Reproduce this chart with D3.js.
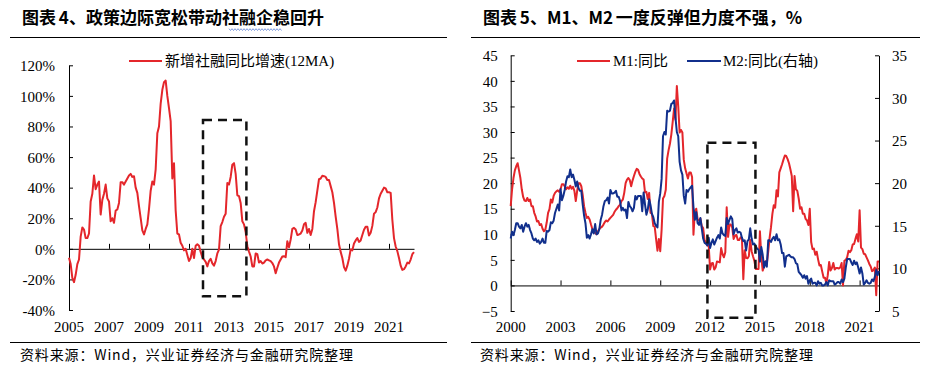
<!DOCTYPE html>
<html>
<head>
<meta charset="utf-8">
<script src="https://cdn.jsdelivr.net/npm/d3@7"></script>
<style>
  html, body { margin: 0; padding: 0; background: #fff; }
  svg { display: block; }
  .tick-label { font-family: "Liberation Serif", "Times New Roman", serif; font-size: 15px; fill: #000; }
</style>
</head>
<body>
<svg id="chart" width="926" height="369"></svg>
<script>
// ---------------- DATA ----------------
// Left chart: 新增社融同比增速(12MA), monthly from 2005-01 (%)
const tsfStartYear = 2005;
const tsfGrowth = [
  -5.9, -10, -19, -21.8, -17, -10, -7, 8, 14, 12.6, 7, 7,
  10, 31, 36, 48, 39, 42, 44, 22.4, 32, 36, 42, 33,
  31, 18, 20, 17, 25, 25.7, 30, 43.6, 43.6, 42, 44, 46,
  48, 49, 47, 47.5, 40, 36.6, 28, 20, 12, 9.4, 13, 16,
  26, 38, 44, 42, 52, 75.5, 80, 95, 104, 109, 110, 100,
  92, 83.5, 46, 56, 25, 10, 9.4, 4, 2, -1, 0, -4,
  -8, -6, 0, -6, 2, 3, 2, -2, -5.5, -7, -8.5, -11.5,
  -8, -6.5, -9.5, -11, -8, -3, -0.5, 14.8, 17.5, 21, 23, 43,
  42, 47, 55, 56, 49, 35, 34.5, 30, 18, 16, 11, 1.7,
  -1.8, -5, -11.5, -11.5, -3, -3.5, -9, -8, -9.6, -9, -7.5, -7,
  -7.5, -8, -9.3, -11.5, -16, -12.4, -9, -7, -5, -4.8, -5.5, 5,
  1, 6, 13, 13.7, 12.6, 9, 9.4, 10, 12, 16, 17, 10.5,
  13, 9, 13, 24.6, 30.5, 38, 45.5, 46, 47.8, 47.5, 47, 45,
  45, 41, 37, 30, 21, 13, 3, -2, -6, -12, -14.3, -11,
  -6.5, -0.4, -1, 3.5, 5.5, 7, 4.5, 5.5, 9, 12.5, 14.5, 14.4,
  8.7, 10.5, 15, 23, 24, 27, 33, 36, 38, 40, 39.5, 37,
  37, 36.6, 19, 7, 1.5, -1.5, -6, -11, -13.8, -13.3, -11.5, -9,
  -9.5, -7, -3.5, -2.2
];
const tsfYTicks = [-40, -20, 0, 20, 40, 60, 80, 100, 120];
const tsfXTicks = [2005, 2007, 2009, 2011, 2013, 2015, 2017, 2019, 2021];
const tsfLegend = "新增社融同比增速(12MA)";
const tsfBox = { x0: 2011.7, x1: 2013.87, y0: -31, y1: 84.3 };

// Right chart: M1 / M2 yoy (%), monthly from 2000-01
const moneyStartYear = 2000;
const m1Growth = [
  15.5, 18.8, 21, 22.5, 23.3, 23.9, 22.5, 21, 18.8, 17.3, 16.6, 16.5,
  17.1, 16.5, 16.8, 15.5, 15.5, 14.2, 13.5, 12.5, 12.6, 11.8, 12, 11.1,
  10.6, 10.9, 12.3, 14.2, 14.9, 16.8, 16.2, 17.5, 18.1, 18.4, 18.6, 18.3,
  18.8, 19.8, 19.8, 19.4, 18.8, 19.2, 18.9, 19.5, 18.9, 19.3, 18.5, 16.5,
  18.5, 20, 20, 19.4, 17.7, 15.5, 14.2, 13.2, 13.4, 12.9, 11.9, 11,
  10.6, 10.3, 10, 10.6, 11, 11.3, 11.5, 11.9, 12.4, 12.7, 12.5, 12.9,
  13.2, 13.5, 13.8, 14.4, 14.8, 15.1, 15.5, 15.8, 16.5, 16.8, 18.1, 20,
  20.7, 21, 20.6, 19.4, 20.5, 21.4, 22.2, 22.8, 22.6, 21.8, 21.3, 20.9,
  20.7, 18.2, 18.3, 16.9, 18.1, 14.2, 14.0, 11.6, 11.5, 9.1, 6.8, 9.1,
  6.7, 10.9, 17.0, 17.5, 18.7, 24.8, 26.4, 27.7, 29.5, 32.0, 34.6, 32.4,
  39.0, 35.0, 29.9, 30.4, 29.9, 24.6, 22.9, 21.9, 20.9, 22.1, 22.1, 21.2,
  9.9, 14.5, 15.0, 12.9, 12.7, 13.1, 11.6, 11.2, 8.9, 8.4, 7.8, 7.9,
  3.1, 4.3, 4.4, 3.1, 3.5, 4.7, 4.6, 4.5, 7.3, 6.1, 5.5, 6.5,
  15.3, 9.5, 11.9, 11.9, 11.3, 9.1, 9.7, 9.9, 8.9, 8.9, 9.4, 9.3,
  1.2, 6.9, 5.4, 5.3, 5.7, 8.9, 6.7, 5.7, 4.8, 3.2, 3.2, 3.2,
  10.6, 5.6, 2.9, 3.7, 4.7, 4.3, 6.6, 9.3, 11.4, 14.0, 15.7, 15.2,
  18.6, 17.4, 22.1, 22.9, 23.7, 24.6, 25.4, 25.3, 24.7, 23.9, 22.7, 21.4,
  14.5, 21.4, 18.8, 18.5, 17.0, 15.0, 15.3, 14.0, 14.0, 13.0, 12.7, 11.8,
  15.0, 8.5, 7.1, 7.2, 6.0, 6.6, 5.1, 3.9, 4.0, 2.7, 1.5, 1.5,
  0.4, 2.0, 4.6, 2.9, 3.4, 4.4, 3.1, 3.4, 3.4, 3.3, 3.5, 4.4,
  0.0, 4.8, 5.0, 5.5, 6.8, 6.5, 6.9, 8.0, 8.1, 9.1, 10.0, 8.6,
  14.7, 7.4, 7.1, 6.2, 6.1, 5.5, 4.9, 4.2, 3.7, 2.8, 3.0, 3.5,
  -1.9, 4.7, 4.7
];
const m2Growth = [
  13.5, 14.3, 13.9, 14.5, 15.3, 15.3, 14.9, 14.7, 15.1, 14.3, 14.9, 15.3,
  14.9, 15.1, 14.5, 14.1, 13.5, 13.3, 13.5, 13.1, 13.3, 12.9, 13.1, 13.5,
  13.0, 13.0, 14.4, 14.3, 14.5, 15.4, 15.3, 15.6, 16.5, 17.0, 17.5, 16.8,
  19.3, 18.0, 18.5, 19.2, 20.2, 20.8, 20.7, 21.6, 20.7, 21.0, 20.4, 19.6,
  20.2, 19.4, 19.1, 19.1, 17.5, 16.2, 15.3, 13.6, 13.9, 13.5, 14.0, 14.6,
  14.1, 15.2, 14.0, 14.1, 14.6, 15.7, 16.3, 17.3, 17.9, 18.0, 18.3, 17.6,
  19.2, 18.8, 18.8, 18.9, 19.1, 18.4, 18.4, 17.9, 16.8, 17.1, 16.8, 16.9,
  15.9, 17.8, 17.3, 17.1, 16.7, 17.1, 18.5, 18.1, 18.5, 18.5, 18.5, 16.7,
  18.9, 17.5, 16.3, 16.9, 18.1, 17.4, 16.4, 16.0, 15.3, 15.0, 14.8, 17.8,
  18.8, 20.5, 25.5, 26.0, 25.7, 28.5, 28.4, 28.5, 29.3, 29.4, 29.7, 27.7,
  26.0, 25.5, 22.5, 21.5, 21.0, 18.5, 17.6, 19.2, 19.0, 19.3, 19.5, 19.7,
  17.2, 15.7, 16.6, 15.3, 15.1, 15.9, 14.7, 13.5, 13.0, 12.9, 12.7, 13.6,
  12.4, 13.0, 13.4, 12.8, 13.2, 13.6, 13.9, 13.5, 14.8, 14.1, 13.9, 13.8,
  15.9, 15.2, 15.7, 16.1, 15.8, 14.0, 14.5, 14.7, 14.2, 14.3, 14.2, 13.6,
  13.2, 13.3, 12.1, 13.2, 13.4, 14.7, 13.5, 12.8, 12.9, 12.6, 12.3, 12.2,
  10.8, 12.5, 11.6, 10.1, 10.8, 10.2, 13.3, 13.3, 13.1, 13.5, 13.7, 13.3,
  14.0, 13.3, 13.4, 12.8, 11.8, 11.8, 10.2, 11.4, 11.5, 11.6, 11.4, 11.3,
  11.3, 11.1, 10.6, 10.5, 9.6, 9.4, 9.2, 8.9, 9.2, 8.8, 9.1, 8.2,
  8.6, 8.8, 8.2, 8.3, 8.3, 8.0, 8.5, 8.2, 8.3, 8.0, 8.0, 8.1,
  8.4, 8.0, 8.6, 8.5, 8.5, 8.5, 8.1, 8.2, 8.4, 8.4, 8.2, 8.7,
  8.4, 8.8, 10.1, 11.1, 11.1, 11.1, 10.7, 10.4, 10.9, 10.5, 10.7, 10.1,
  9.4, 10.1, 9.4, 8.1, 8.3, 8.6, 8.3, 8.2, 8.3, 8.7, 8.5, 9.0,
  9.8, 9.2, 9.7
];
const moneyLeftTicks = [-5, 0, 5, 10, 15, 20, 25, 30, 35, 40, 45];
const moneyRightTicks = [5, 10, 15, 20, 25, 30, 35];
const moneyXTicks = [2000, 2003, 2006, 2009, 2012, 2015, 2018, 2021];
const moneyLegend = ["M1:同比", "M2:同比(右轴)"];
const moneyBox = { x0: 2011.84, x1: 2014.73, y0: -6.3, y1: 27.9 };

const titles = ["图表 4、政策边际宽松带动社融企稳回升", "图表 5、M1、M2 一度反弹但力度不强，%"];
const sourceText = "资料来源：Wind，兴业证券经济与金融研究院整理";

// ---------------- STYLE ----------------
const RED = "#E4262B";
const BLUE = "#112F8C";
const CJK = "'Noto Sans CJK SC', 'Noto Sans', sans-serif";
const SERIF = "'Liberation Serif', 'Noto Sans CJK SC', serif";

const svg = d3.select("#chart");

// ---------------- HEADERS / FOOTERS ----------------
function frame(x0, x1, titleX, title, srcX) {
  svg.append("text").attr("x", titleX).attr("y", 24)
    .style("font-family", CJK).style("font-weight", 700).style("font-size", "17px")
    .style("word-spacing", "-1px")
    .attr("fill", "#000").text(title);
  svg.append("line").attr("x1", x0).attr("x2", x1).attr("y1", 37.5).attr("y2", 37.5)
    .attr("stroke", "#000").attr("stroke-width", 1.2);
  svg.append("line").attr("x1", x0).attr("x2", x1).attr("y1", 342.5).attr("y2", 342.5)
    .attr("stroke", "#000").attr("stroke-width", 1.2);
  svg.append("text").attr("x", srcX).attr("y", 360)
    .style("font-family", CJK).style("font-size", "14px").style("letter-spacing", "0.85px")
    .attr("fill", "#000").text(sourceText);
}
frame(10, 447, 22, titles[0], 20);
frame(471, 920, 483, titles[1], 480);

// spell-check style wavy underline in left title (as in the reference screenshot)
{
  const pts = d3.range(0, 53, 1.5).map(d => [229 + d, 29.3 + (Math.floor(d / 1.5) % 2 ? 1.2 : -0.6)]);
  svg.append("path").attr("d", d3.line()(pts)).attr("fill", "none")
    .attr("stroke", "#6f8fd8").attr("stroke-width", 0.9);
}

// ---------------- LEFT CHART ----------------
{
  const x = d3.scaleLinear().domain([tsfStartYear, tsfStartYear + (tsfGrowth.length - 1) / 12]).range([69, 414]);
  const y = d3.scaleLinear().domain([-40, 120]).range([310, 65.3]);
  const g = svg.append("g");

  const yAxis = d3.axisLeft(y).tickValues(tsfYTicks).tickSizeInner(-4).tickSizeOuter(0)
    .tickPadding(14).tickFormat(d => d + "%");
  const ya = g.append("g").attr("transform", `translate(${x.range()[0]},0)`).call(yAxis);
  ya.selectAll("text").attr("class", "tick-label").attr("dy", "0.35em").style("font-size", "15px");
  ya.selectAll("path,line").attr("stroke", "#000");

  const xAxis = d3.axisBottom(x).tickValues(tsfXTicks).tickSizeInner(-5).tickSizeOuter(0).tickFormat("");
  const xa = g.append("g").attr("transform", `translate(0,${y(0)})`).call(xAxis);
  xa.selectAll("path,line").attr("stroke", "#000");

  g.selectAll("text.xl").data(tsfXTicks).join("text")
    .attr("class", "tick-label").attr("x", d => x(d)).attr("y", 332)
    .attr("text-anchor", "middle").text(d => d);

  const line = d3.line().x((d, i) => x(tsfStartYear + i / 12)).y(d => y(d));
  g.append("path").datum(tsfGrowth).attr("d", line).attr("fill", "none")
    .attr("stroke", RED).attr("stroke-width", 2).attr("stroke-linejoin", "round");

  g.append("rect")
    .attr("x", x(tsfBox.x0)).attr("y", y(tsfBox.y1))
    .attr("width", x(tsfBox.x1) - x(tsfBox.x0)).attr("height", y(tsfBox.y0) - y(tsfBox.y1))
    .attr("fill", "none").attr("stroke", "#111").attr("stroke-width", 2.5)
    .attr("stroke-dasharray", "9,6");

  // legend
  g.append("line").attr("x1", 129).attr("x2", 162).attr("y1", 61).attr("y2", 61)
    .attr("stroke", RED).attr("stroke-width", 2);
  g.append("text").attr("x", 165).attr("y", 66).style("font-family", SERIF)
    .style("font-size", "15px").attr("fill", "#000").text(tsfLegend);
}

// ---------------- RIGHT CHART ----------------
{
  const x = d3.scaleLinear().domain([moneyStartYear, moneyStartYear + (m1Growth.length - 1) / 12]).range([510.7, 879]);
  const yL = d3.scaleLinear().domain([-5, 45]).range([311, 55.3]);
  const yR = d3.scaleLinear().domain([5, 35]).range([311, 55.3]);
  const g = svg.append("g");

  const la = g.append("g").attr("transform", `translate(${x.range()[0]},0)`)
    .call(d3.axisLeft(yL).tickValues(moneyLeftTicks).tickSizeInner(-4).tickSizeOuter(0).tickPadding(13));
  la.selectAll("text").attr("class", "tick-label").attr("dy", "0.35em");
  la.selectAll("path,line").attr("stroke", "#000");

  const ra = g.append("g").attr("transform", `translate(${x.range()[1]},0)`)
    .call(d3.axisRight(yR).tickValues(moneyRightTicks).tickSizeInner(-4).tickSizeOuter(0).tickPadding(13));
  ra.selectAll("text").attr("class", "tick-label").attr("dy", "0.35em");
  ra.selectAll("path,line").attr("stroke", "#000");

  const xa = g.append("g").attr("transform", `translate(0,${yL(0)})`)
    .call(d3.axisBottom(x).tickValues(moneyXTicks).tickSizeInner(-5).tickSizeOuter(0).tickFormat(""));
  xa.selectAll("path,line").attr("stroke", "#000");

  g.selectAll("text.xl").data(moneyXTicks).join("text")
    .attr("class", "tick-label").attr("x", d => x(d)).attr("y", 332)
    .attr("text-anchor", "middle").text(d => d);

  const l1 = d3.line().x((d, i) => x(moneyStartYear + i / 12)).y(d => yL(d));
  const l2 = d3.line().x((d, i) => x(moneyStartYear + i / 12)).y(d => yR(d));
  g.append("path").datum(m1Growth).attr("d", l1).attr("fill", "none")
    .attr("stroke", RED).attr("stroke-width", 2).attr("stroke-linejoin", "round");
  g.append("path").datum(m2Growth).attr("d", l2).attr("fill", "none")
    .attr("stroke", BLUE).attr("stroke-width", 2).attr("stroke-linejoin", "round");

  g.append("rect")
    .attr("x", x(moneyBox.x0)).attr("y", yL(moneyBox.y1))
    .attr("width", x(moneyBox.x1) - x(moneyBox.x0)).attr("height", yL(moneyBox.y0) - yL(moneyBox.y1))
    .attr("fill", "none").attr("stroke", "#111").attr("stroke-width", 2.5)
    .attr("stroke-dasharray", "9,6");

  // legend
  const leg = [
    { x1: 577, x2: 610, tx: 613, color: RED, label: moneyLegend[0] },
    { x1: 687, x2: 721, tx: 723, color: BLUE, label: moneyLegend[1] }
  ];
  leg.forEach(d => {
    g.append("line").attr("x1", d.x1).attr("x2", d.x2).attr("y1", 61).attr("y2", 61)
      .attr("stroke", d.color).attr("stroke-width", 2);
    g.append("text").attr("x", d.tx).attr("y", 66).style("font-family", SERIF)
      .style("font-size", "15px").attr("fill", "#000").text(d.label);
  });
}
</script>
</body>
</html>
